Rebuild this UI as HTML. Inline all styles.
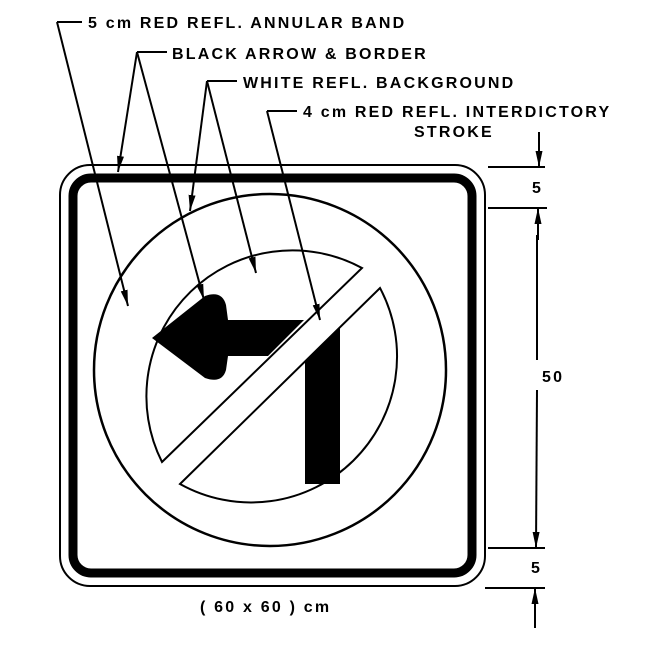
<!DOCTYPE html>
<html><head><meta charset="utf-8"><style>
html,body{margin:0;padding:0;background:#fff;}
svg{display:block;}
text{font-family:"Liberation Sans",sans-serif;font-weight:bold;font-size:16px;fill:#000;letter-spacing:2.2px;}
</style></head><body>
<svg width="658" height="646" viewBox="0 0 658 646" xmlns="http://www.w3.org/2000/svg">
<defs>
<marker id="ah" viewBox="0 0 16 8" refX="16" refY="4" markerWidth="16" markerHeight="8" orient="auto" markerUnits="userSpaceOnUse">
<path d="M0,0.5 L16,4 L0,7.5 z" fill="#000"/>
</marker>
</defs>
<rect x="60" y="165" width="425" height="421" rx="30" fill="none" stroke="#000" stroke-width="2"/>
<rect x="73" y="178" width="399" height="395" rx="18" fill="none" stroke="#000" stroke-width="9"/>
<circle cx="270" cy="370" r="176" fill="none" stroke="#000" stroke-width="2.5"/>
<path d="M162,462 L362,268 A146 146 0 0 0 162,462 Z" fill="none" stroke="#000" stroke-width="2"/>
<path d="M180,484 L380,288 A146 146 0 0 1 180,484 Z" fill="none" stroke="#000" stroke-width="2"/>
<path d="M152,338 L205,296 Q222,290 226,305 L228,320 L304,320 L268,356 L228,356 L226,370 Q222,384 205,378 Z" fill="#000"/>
<path d="M305,361 L340,327 L340,484 L305,484 Z" fill="#000"/>
<text x="88" y="28">5 cm RED REFL. ANNULAR BAND</text>
<text x="172" y="59">BLACK ARROW &amp; BORDER</text>
<text x="243" y="88">WHITE REFL. BACKGROUND</text>
<text x="303" y="117">4 cm RED REFL. INTERDICTORY</text>
<text x="414" y="137">STROKE</text>
<text x="200" y="612">( 60 x 60 ) cm</text>
<g stroke="#000" stroke-width="2" fill="none">
<polyline points="82,22 57,22"/>
<line x1="57" y1="22" x2="128" y2="306" marker-end="url(#ah)"/>
<polyline points="167,52 137,52"/>
<line x1="137" y1="52" x2="118" y2="172" marker-end="url(#ah)"/>
<line x1="137" y1="52" x2="204" y2="300" marker-end="url(#ah)"/>
<polyline points="237,81 207,81"/>
<line x1="207" y1="81" x2="190" y2="211" marker-end="url(#ah)"/>
<line x1="207" y1="81" x2="256" y2="273" marker-end="url(#ah)"/>
<polyline points="297,111 267,111"/>
<line x1="267" y1="111" x2="320" y2="320" marker-end="url(#ah)"/>
<line x1="488" y1="167" x2="545" y2="167"/>
<line x1="488" y1="208" x2="547" y2="208"/>
<line x1="488" y1="548" x2="545" y2="548"/>
<line x1="485" y1="588" x2="545" y2="588"/>
<line x1="539" y1="132" x2="539" y2="167" marker-end="url(#ah)"/>
<line x1="538" y1="240" x2="538" y2="208" marker-end="url(#ah)"/>
<line x1="537" y1="360" x2="537" y2="235"/>
<line x1="537" y1="390" x2="536" y2="548" marker-end="url(#ah)"/>
<line x1="535" y1="628" x2="535" y2="588" marker-end="url(#ah)"/>
</g>
<text x="532" y="193">5</text>
<text x="542" y="382">50</text>
<text x="531" y="573">5</text>
</svg>
</body></html>
